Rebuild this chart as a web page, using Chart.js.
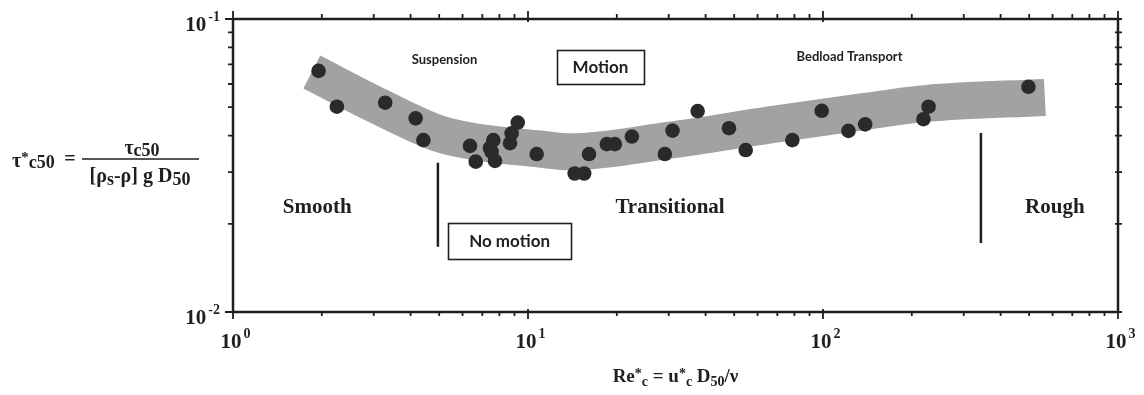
<!DOCTYPE html>
<html><head><meta charset="utf-8">
<script src="https://cdn.jsdelivr.net/npm/chart.js@4/dist/chart.umd.min.js"></script>
<style>html,body{margin:0;padding:0;background:#fff;} #wrap{width:1144px;height:395px;position:relative;}</style>
</head><body><div id="wrap"><canvas id="c"></canvas></div>
<script>
// ---- data ----
const dotRe  = [1.95, 2.25, 3.28, 4.16, 4.42, 6.36, 6.65, 7.63, 7.43, 7.53, 7.73, 8.69, 8.80, 9.23, 10.7, 14.4, 15.5, 16.1, 18.5, 19.7, 22.5, 29.1, 30.9, 37.6, 48.0, 54.7, 78.7, 99.0, 122, 139, 219, 228, 497];
const dotTau = [0.0665, 0.0502, 0.0518, 0.0458, 0.0386, 0.0369, 0.0326, 0.0386, 0.0363, 0.0352, 0.0328, 0.0377, 0.0407, 0.0443, 0.0346, 0.0297, 0.0297, 0.0346, 0.0374, 0.0374, 0.0397, 0.0346, 0.0416, 0.0485, 0.0424, 0.0357, 0.0386, 0.0486, 0.0415, 0.0437, 0.0455, 0.0502, 0.0587];
const bandRe  = [1.85, 3.15, 5.03, 6.87, 10.98, 13.88, 30.3, 66.1, 141, 225, 565];
const bandTau = [0.0659, 0.0501, 0.0405, 0.0379, 0.0360, 0.0352, 0.0386, 0.0435, 0.0485, 0.0515, 0.0540];
const smoothLimitRe  = [4.95, 4.95];
const smoothLimitTau = [0.0323, 0.0167];
const roughLimitRe   = [343, 343];
const roughLimitTau  = [0.0408, 0.0172];
const xMajorTicks = [1, 10, 100, 1000];
const xTickExp    = ['0', '1', '2', '3'];
const yMajorTicks = [0.01, 0.1];
const yTickExp    = ['-2', '-1'];
const regionNames = ['Smooth', 'Transitional', 'Rough'];
const regionRe    = [1.93, 30.3, 611];
const regionTau   = 0.0218;
const noteTexts   = ['Suspension', 'Bedload Transport'];
const noteRe      = [5.21, 123];
const noteTau     = [0.0724, 0.0742];
const boxTexts    = ['Motion', 'No motion'];
const boxRe       = [17.6, 8.66];
const boxTau      = [0.0686, 0.01747];

// ---- styles ----
const INK = '#1f1f1f';
const SERIF = '"Liberation Serif", "DejaVu Serif", serif';
const SANS = 'Lato, "DejaVu Sans", sans-serif';
const boxSize = [[87, 34], [123, 36]];

function xy(xs, ys){ return xs.map((v,i)=>({x:v, y:Array.isArray(ys)?ys[i]:ys})); }

function drawRich(ctx, segs, x, y, align){
  let w = 0;
  for (const s of segs){ ctx.font = s.f; w += ctx.measureText(s.t).width + (s.g||0); }
  let cx = align==='center' ? x - w/2 : (align==='right' ? x - w : x);
  ctx.textAlign = 'left'; ctx.textBaseline = 'alphabetic';
  for (const s of segs){ ctx.font = s.f; ctx.fillText(s.t, cx, y + (s.dy||0)); cx += ctx.measureText(s.t).width + (s.g||0); }
  return w;
}

const decor = {
  id: 'decor',
  afterDraw(chart){
    const {ctx, chartArea:a, scales:{x, y}} = chart;
    ctx.save();
    ctx.strokeStyle = INK; ctx.fillStyle = INK;
    // frame
    ctx.lineWidth = 2.5;
    ctx.strokeRect(a.left, a.top, a.right - a.left, a.bottom - a.top);
    // ticks
    ctx.lineWidth = 1.8;
    ctx.beginPath();
    xMajorTicks.forEach((m, i) => {
      const px = x.getPixelForValue(m);
      ctx.moveTo(px, a.bottom - 3); ctx.lineTo(px, a.bottom + 7);
      ctx.moveTo(px, a.top + 3); ctx.lineTo(px, a.top - 8);
      if (i < xMajorTicks.length - 1) {
        for (let k = 2; k <= 9; k++){
          const p = x.getPixelForValue(m*k);
          ctx.moveTo(p, a.bottom); ctx.lineTo(p, a.bottom + 4);
          ctx.moveTo(p, a.top); ctx.lineTo(p, a.top - 5);
        }
      }
    });
    yMajorTicks.forEach((m, i) => {
      const py = y.getPixelForValue(m);
      ctx.moveTo(a.left - 8, py); ctx.lineTo(a.left + 3, py);
      ctx.moveTo(a.right - 3, py); ctx.lineTo(a.right + 4, py);
      if (i < yMajorTicks.length - 1) {
        for (let k = 2; k <= 9; k++){
          const p = y.getPixelForValue(m*k);
          ctx.moveTo(a.left - 5, p); ctx.lineTo(a.left, p);
          ctx.moveTo(a.right - 3, p); ctx.lineTo(a.right + 4, p);
        }
      }
    });
    ctx.stroke();
    // tick labels
    const big = 'bold 21px ' + SERIF, sup = 'bold 14px ' + SERIF;
    xMajorTicks.forEach((m, i) => {
      const px = x.getPixelForValue(m);
      ctx.font = big;
      const w = ctx.measureText('10').width;
      drawRich(ctx, [{t:'10', f:big, g:2}, {t:xTickExp[i], f:sup, dy:-10}], px - 2 - w/2, a.bottom + 36, 'left');
    });
    yMajorTicks.forEach((m, i) => {
      const py = y.getPixelForValue(m);
      drawRich(ctx, [{t:'10', f:big, g:2}, {t:yTickExp[i], f:sup, dy:-10}], a.left - 13, py + 12, 'right');
    });
    // x title
    const tf = 'bold 19px ' + SERIF, ts = 'bold 14px ' + SERIF;
    drawRich(ctx, [
      {t:'Re', f:tf}, {t:'*', f:ts, dy:-4}, {t:'c', f:ts, dy:4},
      {t:' = u', f:tf}, {t:'*', f:ts, dy:-4}, {t:'c', f:ts, dy:4},
      {t:' D', f:tf}, {t:'50', f:ts, dy:4}, {t:'/ν', f:tf}
    ], (a.left + a.right)/2, 382, 'center');
    // y title (fraction)
    const yf = 'bold 20px ' + SERIF, ys = 'bold 18px ' + SERIF, ys2 = 'bold 15px ' + SERIF;
    drawRich(ctx, [{t:'τ', f:yf}, {t:'*', f:ys2, dy:-5}, {t:'c50', f:ys, dy:1}], 12, 167, 'left');
    drawRich(ctx, [{t:'=', f:yf}], 70, 165, 'center');
    ctx.lineWidth = 1.4;
    ctx.beginPath(); ctx.moveTo(82, 159); ctx.lineTo(199, 159); ctx.stroke();
    drawRich(ctx, [{t:'τ', f:yf}, {t:'c50', f:ys, dy:2}], 142, 154, 'center');
    drawRich(ctx, [{t:'[ρ', f:yf}, {t:'s', f:ys, dy:3}, {t:'-ρ] g D', f:yf}, {t:'50', f:ys, dy:3}], 140, 182, 'center');
    // region names
    const rf = 'bold 21px ' + SERIF;
    regionNames.forEach((t, i) => {
      drawRich(ctx, [{t, f:rf}], x.getPixelForValue(regionRe[i]), y.getPixelForValue(regionTau), 'center');
    });
    // small notes
    ctx.textAlign = 'center'; ctx.textBaseline = 'middle';
    ctx.font = 'bold 13px ' + SANS;
    noteTexts.forEach((t, i) => ctx.fillText(t, x.getPixelForValue(noteRe[i]), y.getPixelForValue(noteTau[i])));
    // boxes
    boxTexts.forEach((t, i) => {
      const cx = x.getPixelForValue(boxRe[i]), cy = y.getPixelForValue(boxTau[i]);
      const [bw, bh] = boxSize[i];
      ctx.lineWidth = 1.6;
      ctx.strokeRect(Math.round(cx - bw/2) + 0.5, Math.round(cy - bh/2) + 0.5, bw, bh);
      ctx.font = 'bold 17px ' + SANS;
      ctx.textAlign = 'center'; ctx.textBaseline = 'middle';
      ctx.fillText(t, cx, cy + 1);
    });
    ctx.restore();
  }
};

new Chart(document.getElementById('c'), {
  type: 'scatter',
  data: {
    datasets: [
      { label: 'measurements', data: xy(dotRe, dotTau), pointRadius: 7.3, pointHoverRadius: 7.3,
        backgroundColor: '#2a2a2a', borderWidth: 0, order: 0 },
      { label: 'smooth limit', type: 'line', data: xy(smoothLimitRe, smoothLimitTau), borderColor: INK,
        borderWidth: 2.5, pointRadius: 0, order: 1 },
      { label: 'rough limit', type: 'line', data: xy(roughLimitRe, roughLimitTau), borderColor: INK,
        borderWidth: 2.5, pointRadius: 0, order: 1 },
      { label: 'band', type: 'line', data: xy(bandRe, bandTau), borderColor: '#a2a2a2',
        borderWidth: 37, borderCapStyle: 'butt', borderJoinStyle: 'round', cubicInterpolationMode: 'monotone',
        pointRadius: 0, order: 2 }
    ]
  },
  options: {
    responsive: true, maintainAspectRatio: false, animation: false,
    layout: { padding: { left: 233, right: 26, top: 19, bottom: 83 } },
    plugins: { legend: { display: false }, tooltip: { enabled: false } },
    scales: {
      x: { type: 'logarithmic', min: 1, max: 1000, display: false },
      y: { type: 'logarithmic', min: 0.01, max: 0.1, display: false }
    }
  },
  plugins: [decor]
});
</script>
</body></html>
